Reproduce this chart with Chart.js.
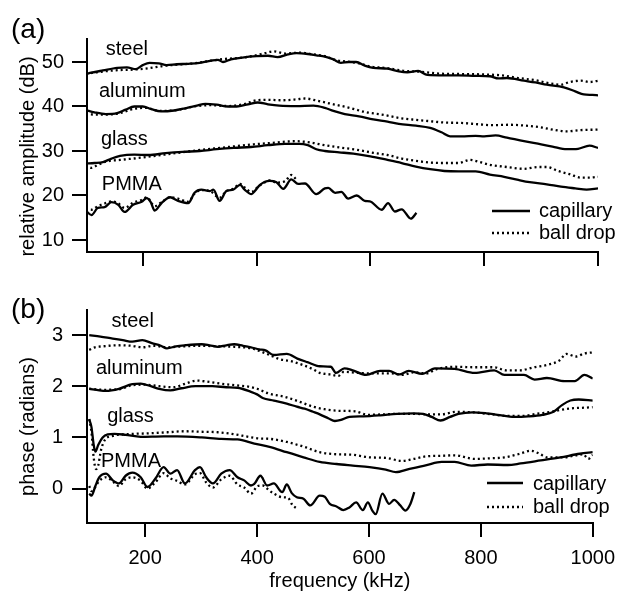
<!DOCTYPE html>
<html>
<head>
<meta charset="utf-8">
<script src="https://cdn.jsdelivr.net/npm/chart.js@4.4.1/dist/chart.umd.min.js"></script>
<style>
html, body { margin: 0; padding: 0; background: #fff; }
#wrap { position: relative; width: 624px; height: 598px; background: #fff; }
canvas { position: absolute; left: 0; }
#ca { top: 0; }
#cb { top: 280px; }
</style>
</head>
<body>
<div id="wrap">
  <canvas id="ca" width="624" height="280" style="width:624px;height:280px"></canvas>
  <canvas id="cb" width="624" height="318" style="width:624px;height:318px"></canvas>
</div>
<script>
// ---------- tick values / labels ----------
const xTickValues = [200, 400, 600, 800, 1000];
const xTickLabels = ['200', '400', '600', '800', '1000'];
const yTickValuesA = [10, 20, 30, 40, 50];
const yTickLabelsA = ['10', '20', '30', '40', '50'];
const yTickValuesB = [0, 1, 2, 3];
const yTickLabelsB = ['0', '1', '2', '3'];
const xTitle = 'frequency (kHz)';
const yTitleA = 'relative amplitude (dB)';
const yTitleB = 'phase (radians)';
const materials = ['steel', 'aluminum', 'glass', 'PMMA'];
const methods = ['capillary', 'ball drop'];

// ---------- panel (a): relative amplitude (dB) vs frequency (kHz) ----------
const steelCapA = [[100,47.3],[110,47.6],[130,48.1],[155,48.7],[172,48.8],[188,48.4],[200,49.3],[212,49.8],[228,49.7],[242,49.3],[260,49.5],[280,49.6],[300,49.8],[320,50.3],[332,50.5],[341,50.0],[355,50.6],[375,51.0],[400,51.3],[420,51.4],[437,51.1],[455,51.7],[470,52.0],[490,51.8],[505,51.5],[520,51.2],[535,50.6],[548,49.8],[562,50.0],[575,50.0],[590,49.2],[605,48.7],[630,48.5],[650,47.9],[665,47.7],[684,48.0],[700,47.1],[730,47.0],[755,47.0],[785,46.9],[810,46.8],[825,46.3],[840,46.4],[870,45.8],[890,45.4],[910,44.9],[940,44.3],[960,43.4],[975,42.7],[990,42.6],[1000,42.5]];
const steelDotA = [[100,47.4],[120,47.7],[140,48.0],[160,48.2],[185,48.3],[210,48.6],[235,49.1],[260,49.4],[290,49.7],[320,50.3],[345,50.7],[370,50.9],[395,51.4],[415,52.0],[430,52.4],[450,51.9],[475,52.1],[500,51.7],[520,51.3],[540,50.4],[560,50.1],[580,49.7],[600,49.0],[630,48.6],[660,48.0],[690,47.8],[720,47.4],[760,47.3],[800,47.2],[830,47.0],[860,46.4],[890,45.9],[915,45.2],[935,44.9],[950,45.5],[970,45.8],[985,45.5],[1000,45.8]];
const aluminumCapA = [[100,39.2],[115,38.7],[135,38.3],[155,38.5],[170,39.3],[185,40.0],[200,40.0],[215,39.4],[232,38.9],[255,39.1],[275,39.6],[295,40.2],[310,40.6],[330,40.4],[350,40.0],[365,40.0],[385,40.5],[402,40.9],[420,40.5],[440,40.2],[470,40.1],[500,40.2],[520,39.7],[535,39.0],[555,38.3],[580,37.8],[605,37.1],[630,36.6],[650,36.1],[680,35.7],[705,35.2],[725,34.2],[740,33.3],[760,33.3],[785,33.4],[800,33.3],[820,33.5],[840,33.0],[870,32.2],[900,31.5],[920,31.0],[945,30.4],[965,30.5],[985,31.2],[1000,30.7]];
const aluminumDotA = [[100,38.3],[115,38.2],[140,38.2],[160,38.5],[185,39.5],[205,39.7],[230,39.0],[260,39.2],[290,40.0],[320,40.3],[350,40.1],[380,40.6],[400,41.4],[420,41.5],[445,41.4],[470,41.6],[485,41.8],[510,41.2],[535,40.5],[560,39.8],[593,38.7],[620,38.2],[652,37.4],[680,37.0],[705,36.7],[730,36.4],[760,36.3],[790,36.0],[815,35.8],[845,35.9],[872,35.7],[900,35.3],[925,34.7],[945,34.4],[970,34.7],[1000,34.8]];
const glassCapA = [[100,27.2],[115,27.3],[130,27.5],[145,28.3],[160,28.9],[185,29.2],[210,29.1],[240,29.5],[270,29.8],[300,30.0],[330,30.4],[360,30.7],[390,30.9],[420,31.3],[450,31.6],[475,31.6],[490,31.3],[505,30.4],[520,30.0],[545,29.7],[570,29.4],[600,28.8],[630,28.0],[655,27.3],[680,26.5],[705,25.9],[730,25.5],[755,25.4],[785,25.4],[810,24.7],[835,24.2],[860,23.5],[880,23.0],[910,22.5],[935,22.0],[960,21.6],[980,21.3],[1000,21.6]];
const glassDotA = [[100,26.8],[110,26.2],[120,26.8],[135,27.6],[160,28.0],[190,28.4],[215,28.8],[245,29.3],[275,29.8],[305,30.3],[335,30.7],[365,31.1],[395,31.5],[425,31.8],[450,32.1],[470,32.2],[495,31.9],[520,31.3],[545,30.8],[575,30.3],[605,29.6],[630,29.1],[655,28.3],[680,27.8],[705,27.4],[735,27.3],[755,27.3],[775,28.0],[790,27.6],[810,26.9],[840,26.4],[870,26.0],[895,26.4],[910,26.4],[930,25.5],[950,24.8],[970,24.0],[985,24.0],[1000,24.2]];
const pmmaCapA = [[100,16.6],[110,15.6],[121,17.2],[133,17.4],[145,18.5],[157,17.9],[168,16.3],[183,17.9],[198,18.6],[207,19.4],[214,18.5],[221,16.6],[233,18.3],[248,19.6],[262,18.8],[280,18.3],[291,20.6],[303,21.3],[318,21.0],[324,21.3],[335,18.8],[347,21.0],[359,21.3],[371,22.4],[379,21.3],[391,20.3],[397,21.0],[406,22.4],[423,23.3],[435,23.0],[447,21.5],[461,23.6],[473,22.6],[485,22.7],[505,20.3],[520,21.6],[526,21.7],[538,20.6],[549,20.8],[561,19.3],[576,20.0],[590,18.8],[599,18.7],[620,16.8],[631,18.3],[643,16.4],[655,16.9],[671,14.8],[681,16.1]];
const pmmaDotA = [[100,17.0],[110,16.8],[121,17.6],[133,18.2],[145,18.7],[157,18.2],[168,17.2],[183,18.4],[198,19.0],[207,19.6],[221,17.6],[233,18.5],[248,19.6],[262,19.3],[280,18.6],[291,20.4],[303,21.2],[318,21.0],[335,19.5],[347,21.0],[359,21.5],[371,22.6],[379,21.8],[391,20.8],[403,22.0],[415,23.0],[423,23.4],[435,22.9],[450,23.2],[461,24.6],[470,23.6]];

// ---------- panel (b): phase (radians) vs frequency (kHz) ----------
const steelCapB = [[100,3.0],[120,2.97],[142,2.93],[160,2.9],[177,2.87],[195,2.9],[212,2.84],[228,2.79],[239,2.74],[255,2.78],[271,2.8],[301,2.82],[315,2.8],[330,2.77],[345,2.8],[359,2.82],[375,2.79],[389,2.76],[404,2.72],[415,2.7],[430,2.61],[453,2.63],[472,2.54],[490,2.47],[512,2.39],[532,2.38],[541,2.26],[556,2.35],[571,2.31],[595,2.22],[620,2.3],[636,2.3],[654,2.23],[671,2.3],[695,2.24],[718,2.35],[753,2.34],[789,2.26],[824,2.31],[842,2.22],[877,2.22],[896,2.13],[918,2.16],[950,2.1],[968,2.1],[985,2.22],[1000,2.15]];
const steelDotB = [[100,2.71],[110,2.76],[125,2.78],[150,2.80],[175,2.79],[195,2.76],[215,2.79],[240,2.76],[270,2.78],[300,2.79],[330,2.78],[360,2.77],[390,2.74],[404,2.69],[420,2.62],[440,2.53],[460,2.49],[483,2.41],[500,2.33],[512,2.26],[530,2.23],[545,2.2],[555,2.28],[580,2.26],[610,2.25],[640,2.25],[660,2.22],[680,2.27],[703,2.25],[720,2.33],[753,2.38],[790,2.37],[824,2.37],[845,2.31],[870,2.31],[895,2.37],[920,2.42],[940,2.5],[953,2.63],[970,2.58],[985,2.64],[1000,2.66]];
const aluminumCapB = [[100,1.95],[118,1.92],[130,1.91],[153,1.95],[177,2.04],[192,2.05],[210,2.0],[225,1.95],[245,1.92],[265,1.96],[290,2.0],[320,2.0],[345,1.98],[365,1.97],[389,1.89],[400,1.84],[410,1.77],[430,1.72],[453,1.66],[471,1.6],[485,1.56],[500,1.5],[512,1.45],[528,1.37],[539,1.32],[550,1.34],[565,1.4],[590,1.41],[620,1.43],[650,1.46],[680,1.47],[697,1.46],[712,1.40],[728,1.33],[745,1.40],[760,1.46],[785,1.49],[810,1.47],[830,1.44],[860,1.40],[885,1.41],[910,1.44],[930,1.50],[945,1.63],[960,1.72],[975,1.74],[1000,1.72]];
const aluminumDotB = [[100,1.95],[125,1.93],[153,1.94],[177,2.02],[200,2.03],[225,2.0],[250,1.98],[272,2.05],[292,2.11],[310,2.09],[335,2.05],[360,2.02],[385,1.99],[400,1.95],[420,1.86],[450,1.79],[475,1.70],[500,1.60],[520,1.55],[545,1.52],[575,1.51],[598,1.44],[625,1.45],[655,1.46],[680,1.46],[705,1.45],[730,1.45],[755,1.50],[785,1.49],[812,1.46],[848,1.42],[875,1.42],[900,1.46],[925,1.50],[945,1.54],[965,1.57],[985,1.58],[1000,1.59]];
const glassCapB = [[100,1.35],[104,1.2],[108,0.85],[111,0.72],[116,0.85],[124,1.0],[133,1.06],[145,1.07],[165,1.05],[192,1.01],[233,1.02],[257,1.02],[301,1.0],[336,0.97],[365,0.96],[395,0.88],[424,0.81],[453,0.71],[483,0.61],[512,0.52],[542,0.48],[571,0.45],[601,0.42],[630,0.37],[648,0.32],[671,0.38],[703,0.46],[730,0.52],[753,0.52],[783,0.45],[812,0.47],[848,0.46],[871,0.49],[907,0.55],[942,0.61],[977,0.68],[1000,0.71]];
const glassDotB = [[100,1.36],[104,1.1],[108,0.6],[112,0.38],[116,0.45],[121,0.75],[128,0.95],[142,1.03],[165,1.06],[206,1.08],[240,1.10],[271,1.12],[300,1.11],[330,1.10],[360,1.06],[385,1.01],[404,0.98],[424,0.97],[453,0.91],[483,0.82],[512,0.71],[542,0.67],[571,0.66],[601,0.61],[630,0.60],[659,0.54],[680,0.58],[703,0.63],[730,0.64],[753,0.65],[789,0.58],[815,0.59],[842,0.61],[870,0.68],[889,0.74],[905,0.68],[918,0.61],[948,0.61],[970,0.65],[983,0.67],[992,0.58],[1000,0.66]];
const pmmaCapB = [[100,-0.1],[104,-0.14],[111,0.05],[118,0.22],[130,0.29],[142,0.16],[153,0.1],[165,0.25],[177,0.31],[192,0.22],[204,0.03],[218,0.19],[233,0.42],[245,0.29],[257,0.36],[271,0.1],[289,0.36],[298,0.42],[309,0.22],[321,0.1],[336,0.29],[351,0.36],[365,0.22],[377,0.16],[389,0.06],[395,0.09],[406,0.25],[418,0.06],[430,0.10],[445,-0.07],[453,0.08],[462,-0.09],[471,-0.17],[483,-0.20],[495,-0.33],[512,-0.14],[521,-0.16],[530,-0.30],[542,-0.35],[554,-0.42],[565,-0.37],[577,-0.27],[589,-0.42],[598,-0.27],[606,-0.43],[612,-0.50],[624,-0.10],[636,-0.30],[645,-0.22],[656,-0.33],[665,-0.43],[674,-0.30],[681,-0.07]];
const pmmaDotB = [[100,0.05],[104,-0.05],[118,0.15],[130,0.22],[142,0.14],[153,0.05],[165,0.18],[177,0.22],[192,0.15],[204,0.0],[218,0.12],[233,0.30],[245,0.20],[257,0.15],[271,0.08],[289,0.28],[298,0.30],[309,0.12],[321,0.02],[336,0.18],[351,0.25],[365,0.08],[377,0.02],[389,-0.10],[401,0.05],[410,0.06],[420,-0.02],[430,-0.10],[445,-0.17],[455,-0.18],[463,-0.32],[471,-0.39]];

// label anchors (frequency, value) for the material names
const labelAnchorsA = [[135,51.6],[123,42.2],[126.5,31.35],[128,21.2]];
const labelAnchorsB = [[140,3.16],[112,2.24],[132,1.31],[121,0.42]];

// ---------- drawing ----------
const FONT = '"Liberation Sans", Arial, Helvetica, sans-serif';
const DOT = [2, 3];
const LW = 2.3;

const deco = {
  id: 'deco',
  afterDraw(chart, args, o) {
    const ctx = chart.ctx;
    const xs = chart.scales.x, ys = chart.scales.y;
    ctx.save();
    ctx.fillStyle = '#000';
    ctx.strokeStyle = '#000';
    // panel letter
    ctx.font = '28px ' + FONT;
    ctx.textAlign = 'left';
    ctx.textBaseline = 'alphabetic';
    ctx.fillText(o.letter, o.letterX, o.letterY);
    // material labels
    ctx.font = '20px ' + FONT;
    materials.forEach((m, i) => {
      const a = o.anchors[i];
      ctx.fillText(m, xs.getPixelForValue(a[0]), ys.getPixelForValue(a[1]));
    });
    // y title
    ctx.save();
    ctx.translate(o.yTitleX, o.yTitleY);
    ctx.rotate(-Math.PI / 2);
    ctx.textAlign = 'center';
    ctx.textBaseline = 'middle';
    ctx.fillText(o.yTitle, 0, 0);
    ctx.restore();
    // legend
    ctx.lineWidth = LW;
    methods.forEach((m, i) => {
      const ly = o.legLineY[i];
      ctx.setLineDash(i === 0 ? [] : DOT);
      ctx.beginPath();
      ctx.moveTo(o.legX0, ly);
      ctx.lineTo(o.legX1, ly);
      ctx.stroke();
      ctx.setLineDash([]);
      ctx.textBaseline = 'middle';
      ctx.fillText(m, o.legTextX, o.legTextY[i]);
    });
    ctx.restore();
  }
};

function ds(arr, dotted) {
  return {
    data: arr.map(([x, y]) => ({ x, y })),
    borderColor: '#000',
    borderWidth: LW,
    borderDash: dotted ? DOT : [],
    borderCapStyle: 'butt',
    borderJoinStyle: 'round',
    pointRadius: 0,
    fill: false,
    cubicInterpolationMode: 'monotone'
  };
}

function makeChart(id, c) {
  return new Chart(document.getElementById(id), {
    type: 'line',
    data: { datasets: c.series },
    options: {
      responsive: false,
      animation: false,
      devicePixelRatio: 1,
      layout: { padding: c.padding },
      plugins: { legend: { display: false }, tooltip: { enabled: false }, deco: c.deco },
      scales: {
        x: {
          type: 'linear', min: c.xMin, max: 1000,
          border: { display: true, color: '#000', width: 2 },
          grid: { display: true, drawOnChartArea: false, drawTicks: true, tickLength: 14, tickWidth: 2, tickColor: '#000', color: '#000', lineWidth: 2 },
          ticks: { display: c.xLabels, color: '#000', font: { family: FONT, size: 20 }, padding: 9, maxRotation: 0, autoSkip: false,
                   callback: (v) => xTickLabels[xTickValues.indexOf(v)] },
          title: { display: c.xLabels, text: xTitle, color: '#000', font: { family: FONT, size: 20 }, padding: { top: 0, bottom: 5 } },
          afterBuildTicks: (ax) => { ax.ticks = xTickValues.map(v => ({ value: v })); },
          afterFit: (ax) => { ax.height = c.xHeight; }
        },
        y: {
          type: 'linear', min: c.yMin, max: c.yMax,
          border: { display: true, color: '#000', width: 2 },
          grid: { display: true, drawOnChartArea: false, drawTicks: true, tickLength: 15, tickWidth: 2, tickColor: '#000', color: '#000', lineWidth: 2 },
          ticks: { color: '#000', font: { family: FONT, size: 20 }, padding: c.yPad, autoSkip: false,
                   callback: (v) => c.yLabels[c.yTicks.indexOf(v)] },
          afterBuildTicks: (ax) => { ax.ticks = c.yTicks.map(v => ({ value: v })); },
          afterFit: (ax) => { ax.width = 87; }
        }
      }
    },
    plugins: [deco]
  });
}

makeChart('ca', {
  series: [ds(steelCapA,false), ds(steelDotA,true), ds(aluminumCapA,false), ds(aluminumDotA,true),
           ds(glassCapA,false), ds(glassDotA,true), ds(pmmaCapA,false), ds(pmmaDotA,true)],
  padding: { left: 0, top: 39, right: 26, bottom: 0 },
  xMin: 102, xLabels: false, xHeight: 28,
  yMin: 7.3, yMax: 55.17, yTicks: yTickValuesA, yLabels: yTickLabelsA, yPad: 8,
  deco: { letter: '(a)', letterX: 11, letterY: 38, anchors: labelAnchorsA, yTitle: yTitleA, yTitleX: 28, yTitleY: 156.5,
          legX0: 492, legX1: 530, legLineY: [211, 233], legTextX: 539, legTextY: [211, 233] }
});

makeChart('cb', {
  series: [ds(steelCapB,false), ds(steelDotB,true), ds(aluminumCapB,false), ds(aluminumDotB,true),
           ds(glassCapB,false), ds(glassDotB,true), ds(pmmaCapB,false), ds(pmmaDotB,true)],
  padding: { left: 0, top: 30, right: 25, bottom: 0 },
  xMin: 96, xLabels: true, xHeight: 75,
  yMin: -0.673, yMax: 3.489, yTicks: yTickValuesB, yLabels: yTickLabelsB, yPad: 9,
  deco: { letter: '(b)', letterX: 11, letterY: 38, anchors: labelAnchorsB, yTitle: yTitleB, yTitleX: 28, yTitleY: 146.5,
          legX0: 487, legX1: 523, legLineY: [203, 227], legTextX: 533, legTextY: [204, 227] }
});
</script>
</body>
</html>
